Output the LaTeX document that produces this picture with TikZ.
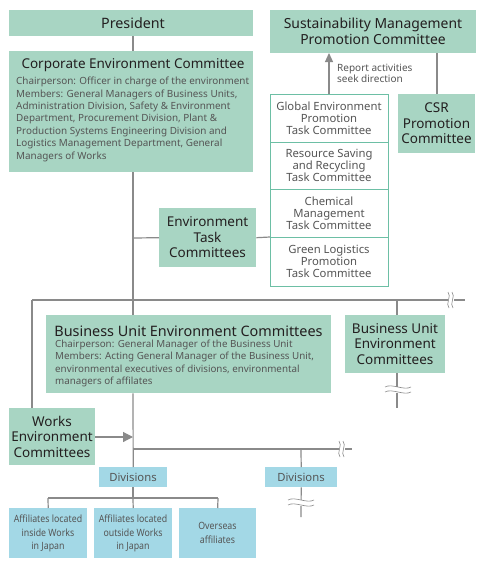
\documentclass[tikz,border=0pt]{standalone}
\usepackage{fontspec}
\setmainfont{Noto Sans}
\usetikzlibrary{arrows.meta}
\definecolor{mint}{HTML}{A8D5C3}
\definecolor{sky}{HTML}{A3D8E6}
\definecolor{lne}{HTML}{8A8A8A}
\definecolor{tdark}{HTML}{231F20}
\definecolor{tgray}{HTML}{555555}
\definecolor{tbord}{HTML}{6DBFA5}
\tikzset{
  gbox/.style={fill=mint, draw=none, anchor=north west, inner sep=0pt},
  bbox/.style={fill=sky, draw=none, anchor=north west, inner sep=0pt},
  tbox/.style={fill=white, draw=tbord, line width=1pt, anchor=north west, inner sep=0pt},
  ln/.style={draw=lne, line width=1.2pt},
  ttl/.style={text=tdark, font=\fontsize{13.5}{15.5}\selectfont, align=center, inner sep=0pt},
  body/.style={text=tgray, font=\fontsize{9.9}{12.4}\selectfont, align=left, inner sep=0pt, anchor=north west},
  tsk/.style={text=tgray, font=\fontsize{11.3}{12.2}\selectfont, align=center, inner sep=0pt},
  aff/.style={text=tgray, font=\fontsize{10}{13.5}\selectfont, align=center, inner sep=0pt},
  brk/.style={draw=lne, line width=0.6pt},
}
\begin{document}
\begin{tikzpicture}[x=1pt,y=-1pt]
\useasboundingbox (0,0) rectangle (485,570);
% ---- coordinates ----
\coordinate (pb) at (133,36);
\coordinate (sp1) at (133,238);
\coordinate (sp2) at (133,300);
\coordinate (sp3) at (133,437);
\coordinate (sp4) at (133,449);
\coordinate (hl) at (32,300);
\coordinate (hr) at (465,300);
\coordinate (hb) at (397,300);
\coordinate (wt) at (32,408);
\coordinate (bue2end) at (397,408);
\coordinate (h2r) at (352,449);
\coordinate (h2d) at (301,449);
\coordinate (d2end) at (301,517);
\coordinate (bl) at (48,498);
\coordinate (bm) at (133,498);
\coordinate (br) at (218,498);
\coordinate (dv1b) at (133,487);
\coordinate (sc1) at (437,53);
\coordinate (sc2) at (437,94);
\coordinate (tup) at (329,94);
\coordinate (sdown) at (329,53);

% boxes
\node[gbox, minimum width=244pt, minimum height=26pt] (pres) at (9,10) {};
\node[gbox, minimum width=244pt, minimum height=121pt] (cec) at (9,51) {};
\node[gbox, minimum width=206pt, minimum height=43pt] (smpc) at (270,10) {};
\node[gbox, minimum width=77pt, minimum height=59pt] (csr) at (398,94) {};

\node[tbox, minimum width=118pt, minimum height=48pt] (t1) at (270,94) {};
\node[tbox, minimum width=118pt, minimum height=47pt] (t2) at (270,142) {};
\node[tbox, minimum width=118pt, minimum height=48pt] (t3) at (270,189) {};
\node[tbox, minimum width=118pt, minimum height=49pt] (t4) at (270,237) {};

\node[gbox, minimum width=97pt, minimum height=59pt] (etc) at (159,208) {};
\node[gbox, minimum width=285pt, minimum height=78pt] (buec) at (46,315) {};
\node[gbox, minimum width=100pt, minimum height=58pt] (buec2) at (345,315) {};
\node[gbox, minimum width=86pt, minimum height=57pt] (works) at (9,408) {};

\node[bbox, minimum width=68pt, minimum height=20pt] (dv1) at (99,467) {};
\node[bbox, minimum width=72pt, minimum height=20pt] (dv2) at (265,467) {};

\node[bbox, minimum width=78pt, minimum height=50pt] (a1) at (9,508) {};
\node[bbox, minimum width=78pt, minimum height=50pt] (a2) at (94,508) {};
\node[bbox, minimum width=77pt, minimum height=50pt] (a3) at (179,508) {};

% lines
\draw[ln] (pb) -- (cec.north -| pb);
\draw[ln] (cec.south -| pb) -- (sp2) -- (buec.north -| pb);
\draw[ln] (buec.south -| pb) -- (dv1.north);
\draw[ln] (sp1) -- (etc.west);
\draw[ln] (etc.east) -- (t4.north west);
\draw[ln] (hl) -- (hr);
\draw[ln] (hl) -- (wt);
\draw[ln] (hb) -- (buec2.north -| hb);
\draw[ln] (buec2.south -| hb) -- (bue2end);
\draw[ln] (sp4) -- (h2r);
\draw[ln] (h2d) -- (dv2.north);
\draw[ln] (dv2.south) -- (d2end);
\draw[ln] (dv1b) -- (bm);
\draw[ln] (bl) -- (br);
\draw[ln] (bl) -- (a1.north);
\draw[ln] (bm) -- (a2.north);
\draw[ln] (br) -- (a3.north);
\draw[ln] (sc1) -- (sc2);
\draw[ln, -{Triangle[width=8pt,length=9pt]}, fill=lne] (tup) -- (sdown);
\draw[ln, -{Triangle[width=10pt,length=10pt]}, fill=lne] (works.east |- sp3) -- (sp3);

% breaks
\fill[white] (448,292) rectangle (454,308);
\draw[brk] (448,292) .. controls (452,296) and (445,304) .. (449,308);
\draw[brk] (452,292) .. controls (456,296) and (449,304) .. (453,308);
\fill[white] (385,387) rectangle (411,393);
\draw[brk] (385,387) .. controls (392,383) and (404,391) .. (411,387);
\draw[brk] (385,392) .. controls (392,388) and (404,396) .. (411,392);
\fill[white] (339,441) rectangle (345,457);
\draw[brk] (339,441) .. controls (343,445) and (336,453) .. (340,457);
\draw[brk] (343,441) .. controls (347,445) and (340,453) .. (344,457);
\fill[white] (288,500) rectangle (314,506);
\draw[brk] (288,500) .. controls (295,496) and (307,504) .. (314,500);
\draw[brk] (288,505) .. controls (295,501) and (307,509) .. (314,505);

% texts
\node[ttl, font=\fontsize{14.3}{17}\selectfont] (prest) at (133,23.5) {President};
\node[ttl] (cect) at (133,65) {Corporate Environment Committee};
\node[body] (cecb) at (16,77) {Chairperson: Officer in charge of the environment\\Members: General Managers of Business Units,\\Administration Division, Safety \& Environment\\Department, Procurement Division, Plant \&\\Production Systems Engineering Division and\\Logistics Management Department, General\\Managers of Works};

\node[ttl, font=\fontsize{13.9}{15.5}\selectfont] (smpct) at (373,31.5) {Sustainability Management\\Promotion Committee};
\node[ttl] (csrt) at (436.5,123.5) {CSR\\Promotion\\Committee};
\node[body, font=\fontsize{10}{11.5}\selectfont] (rep) at (337,63.5) {Report activities\\seek direction};

\node[tsk] (t1t) at (329,118) {Global Environment\\Promotion\\Task Committee};
\node[tsk] (t2t) at (329,165.5) {Resource Saving\\and Recycling\\Task Committee};
\node[tsk] (t3t) at (329,213) {Chemical\\Management\\Task Committee};
\node[tsk] (t4t) at (329,261.5) {Green Logistics\\Promotion\\Task Committee};

\node[ttl] (etct) at (207.5,237.5) {Environment\\Task\\Committees};

\node[ttl, font=\fontsize{14.4}{16}\selectfont] (buect) at (188.5,331.5) {Business Unit Environment Committees};
\node[body, font=\fontsize{9.8}{12.5}\selectfont] (buecb) at (55,339.5) {Chairperson: General Manager of the Business Unit\\Members: Acting General Manager of the Business Unit,\\environmental executives of divisions, environmental\\managers of affilates};

\node[ttl] (buec2t) at (395,344) {Business Unit\\Environment\\Committees};
\node[ttl] (workst) at (52,436.5) {Works\\Environment\\Committees};

\node[tsk] (dv1t) at (133,477) {Divisions};
\node[tsk] (dv2t) at (301,477) {Divisions};

\node[aff] (a1t) at (48,533.5) {\scalebox{0.88}[1]{Affiliates located}\\\scalebox{0.88}[1]{inside Works}\\\scalebox{0.88}[1]{in Japan}};
\node[aff] (a2t) at (133,533.5) {\scalebox{0.88}[1]{Affiliates located}\\\scalebox{0.88}[1]{outside Works}\\\scalebox{0.88}[1]{in Japan}};
\node[aff] (a3t) at (217.5,533) {\scalebox{0.88}[1]{Overseas}\\\scalebox{0.88}[1]{affiliates}};
\end{tikzpicture}
\end{document}
